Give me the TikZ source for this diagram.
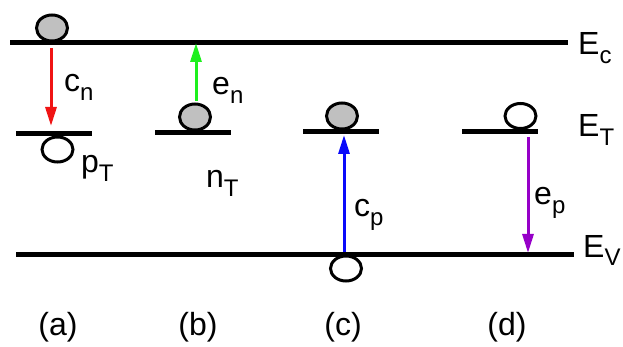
\documentclass[tikz,border=0pt]{standalone}
\usepackage{fontspec}
\setmainfont{Liberation Sans}
\usetikzlibrary{arrows.meta,shapes.geometric}
\definecolor{gfill}{RGB}{192,192,192}
\definecolor{cred}{RGB}{240,20,20}
\definecolor{cgreen}{RGB}{30,240,30}
\definecolor{cblue}{RGB}{10,10,250}
\definecolor{cpurple}{RGB}{150,0,200}
\newcommand\lsub[1]{\raisebox{-9pt}{\fontsize{24}{24}\selectfont #1}}
\tikzset{
  level/.style={line width=5pt},
  electron/.style={draw, ellipse, line width=3pt, fill=gfill, minimum width=31pt, minimum height=26pt, inner sep=0pt},
  hole/.style={draw, ellipse, line width=3pt, fill=white, minimum width=31pt, minimum height=25pt, inner sep=0pt},
  trans/.style={line width=3pt, -{Triangle[length=19pt,width=11pt]}},
  lbl/.style={inner sep=0pt, anchor=base west, font=\fontsize{32}{38}\selectfont},
  caseLbl/.style={inner sep=0pt, anchor=base, font=\fontsize{32}{38}\selectfont}
}
\begin{document}
\begin{tikzpicture}[x=1pt,y=-1pt]
\useasboundingbox (0,0) rectangle (623,347);
% band levels
\coordinate (ec1) at (10,43); \coordinate (ec2) at (568,43);
\coordinate (ev1) at (16,254); \coordinate (ev2) at (574,254);
\draw[level] (ec1) -- (ec2);
\draw[level] (ev1) -- (ev2);
% trap levels
\coordinate (ta1) at (16,134); \coordinate (ta2) at (92,134);
\coordinate (tb1) at (155,133); \coordinate (tb2) at (231,133);
\coordinate (tc1) at (303,132); \coordinate (tc2) at (379,132);
\coordinate (td1) at (462,132); \coordinate (td2) at (538,132);
\draw[level] (ta1) -- (ta2);
\draw[level] (tb1) -- (tb2);
\draw[level] (tc1) -- (tc2);
\draw[level] (td1) -- (td2);
% carriers
\node[electron] (ea) at (52,28) {};
\node[hole] (ha) at (57.5,149.5) {};
\node[electron] (eb) at (195,117) {};
\node[electron] (ecc) at (342,116) {};
\node[hole] (hc) at (346,268.5) {};
\node[hole] (hd) at (520.5,116) {};
% arrows
\coordinate (a1) at (51,48); \coordinate (a2) at (51,126);
\coordinate (b1) at (196,101); \coordinate (b2) at (196,43);
\coordinate (c1) at (344,252); \coordinate (c2) at (344,135);
\coordinate (d1) at (528,137); \coordinate (d2) at (528,253);
\draw[trans, cred] (a1) -- (a2);
\draw[trans, cgreen] (b1) -- (b2);
\draw[trans, cblue] (c1) -- (c2);
\draw[trans, cpurple] (d1) -- (d2);
% labels
\node[lbl] (lEc) at (578,55) {E\lsub{c}};
\node[lbl] (lEt) at (578,137) {E\lsub{T}};
\node[lbl] (lEv) at (583,257) {E\lsub{V}};
\node[lbl] (lcn) at (64,92) {c\lsub{n}};
\node[lbl] (len) at (212,95) {e\lsub{n}};
\node[lbl] (lpt) at (81,173) {p\lsub{T}};
\node[lbl] (lnt) at (206,188) {n\lsub{T}};
\node[lbl] (lcp) at (354,217) {c\lsub{p}};
\node[lbl] (lep) at (534,205) {e\lsub{p}};
\node[caseLbl] (ca) at (58,335) {(a)};
\node[caseLbl] (cb) at (198,335) {(b)};
\node[caseLbl] (cc) at (343,335) {(c)};
\node[caseLbl] (cd) at (507,335) {(d)};
\end{tikzpicture}
\end{document}
